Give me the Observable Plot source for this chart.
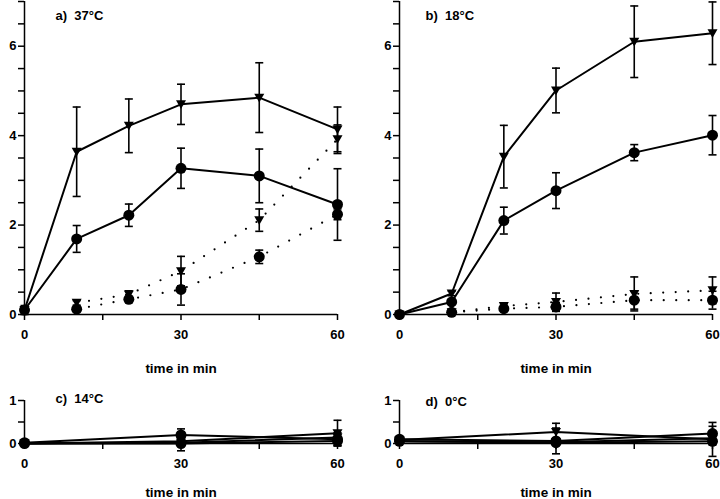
<!DOCTYPE html>
<html>
<head>
<meta charset="utf-8">
<script src="https://cdn.jsdelivr.net/npm/d3@7"></script>
<script src="https://cdn.jsdelivr.net/npm/@observablehq/plot@0.6"></script>
<style>
  html, body { margin: 0; padding: 0; background: #fff; }
  #chart { position: relative; width: 720px; height: 499px; overflow: hidden; }
  .panel { position: absolute; }
</style>
</head>
<body>
<div id="chart"></div>
<script>
// ---------- data ----------
const timesFull = [0, 10, 20, 30, 45, 60];
const timesLate = [10, 20, 30, 45, 60];
const timesShort = [0, 30, 60];

const xTicks = [0, 15, 30, 45, 60];
const xTickLabels = [0, 30, 60];
const yTicksTop = [0, 0.5, 1, 1.5, 2, 2.5, 3, 3.5, 4, 4.5, 5, 5.5, 6, 6.5, 7];
const yTickLabelsTop = [0, 2, 4, 6];
const yTicksBottom = [0, 0.5, 1];
const yTickLabelsBottom = [0, 1];

const panelTitles = ["a)\u00a0\u00a037°C", "b)\u00a0\u00a018°C", "c)\u00a0\u00a014°C", "d)\u00a0\u00a00°C"];
const xLabel = "time in min";

// a) 37 °C
const a37TriSolid = [0.1, 3.64, 4.22, 4.70, 4.85, 4.14];
const a37TriSolidErr = [0.1, 1.0, 0.6, 0.45, 0.78, 0.5];
const a37CircSolid = [0.1, 1.69, 2.22, 3.27, 3.10, 2.46];
const a37CircSolidErr = [0.05, 0.3, 0.25, 0.45, 0.6, 0.8];
const a37TriDot = [0.26, 0.45, 0.97, 2.11, 3.92];
const a37TriDotErr = [0.05, 0.08, 0.33, 0.25, 0.32];
const a37CircDot = [0.12, 0.34, 0.56, 1.29, 2.24];
const a37CircDotErr = [0.05, 0.06, 0.35, 0.15, 0.12];

// b) 18 °C
const b18TriSolid = [0, 0.47, 3.53, 5.01, 6.10, 6.29];
const b18TriSolidErr = [0, 0.05, 0.7, 0.5, 0.8, 0.7];
const b18CircSolid = [0, 0.28, 2.10, 2.77, 3.62, 4.01];
const b18CircSolidErr = [0, 0.05, 0.3, 0.4, 0.18, 0.44];
const b18TriDot = [0.05, 0.19, 0.28, 0.46, 0.54];
const b18TriDotErr = [0.02, 0.05, 0.2, 0.38, 0.3];
const b18CircDot = [0.05, 0.13, 0.17, 0.32, 0.32];
const b18CircDotErr = [0.02, 0.04, 0.1, 0.2, 0.2];

// c) 14 °C
const c14TriA = [0, 0.05, 0.24];
const c14TriAErr = [0, 0.22, 0.3];
const c14CircA = [0.02, 0.2, 0.1];
const c14CircAErr = [0, 0.14, 0.15];
const c14TriB = [0, 0.02, 0.14];
const c14TriBErr = [0, 0.05, 0.1];
const c14CircB = [0, 0, 0.06];
const c14CircBErr = [0, 0.05, 0.1];

// d) 0 °C
const d0TriA = [0.08, 0.27, 0.1];
const d0TriAErr = [0, 0.2, 0.1];
const d0CircA = [0.1, 0.06, 0.23];
const d0CircAErr = [0.05, 0.3, 0.26];
const d0TriB = [0.05, 0.03, 0.12];
const d0TriBErr = [0, 0.05, 0.05];
const d0CircB = [0.05, 0.02, 0.05];
const d0CircBErr = [0, 0.05, 0.35];

// ---------- symbols ----------
const triDown = {
  draw(ctx, size) {
    const r = Math.sqrt(size / Math.PI);
    ctx.moveTo(-r, -r * 0.8);
    ctx.lineTo(r, -r * 0.8);
    ctx.lineTo(0, r * 0.95);
    ctx.closePath();
  }
};
const cap = {
  draw(ctx, size) {
    const r = Math.sqrt(size / Math.PI);
    ctx.moveTo(-r, 0);
    ctx.lineTo(r, 0);
  }
};

function rows(times, vals, errs) {
  return times.map((t, i) => ({t, v: vals[i], e: errs[i], lo: vals[i] - errs[i], hi: vals[i] + errs[i]}));
}

function panel(cfg) {
  const lineMarks = [], errMarks = [], dotMarks = [];
  for (const s of cfg.series) {
    const data = rows(s.times, s.vals, s.errs);
    const eb = data.filter(d => d.e > 0);
    lineMarks.push(s.dotted
      ? Plot.line(data, {x: "t", y: "v", stroke: "black", strokeWidth: 2.2, strokeDasharray: "0 12.5", strokeLinecap: "round"})
      : Plot.line(data, {x: "t", y: "v", stroke: "black", strokeWidth: 2}));
    errMarks.push(
      Plot.ruleX(eb, {x: "t", y1: "lo", y2: "hi", stroke: "black", strokeWidth: 1.6}),
      Plot.dot(eb, {x: "t", y: "lo", symbol: cap, r: 4, stroke: "black", strokeWidth: 1.6, fill: "none"}),
      Plot.dot(eb, {x: "t", y: "hi", symbol: cap, r: 4, stroke: "black", strokeWidth: 1.6, fill: "none"})
    );
    if (s.shape === "tri") {
      dotMarks.push(Plot.dot(data, {x: "t", y: "v", symbol: triDown, r: 5, fill: "black", stroke: "none"}));
    } else {
      dotMarks.push(Plot.dot(data, {x: "t", y: "v", r: 5.5, fill: "black", stroke: "none"}));
    }
  }
  return Plot.plot({
    width: cfg.width,
    height: cfg.height,
    marginLeft: 24,
    marginRight: cfg.marginRight,
    marginTop: cfg.marginTop,
    marginBottom: cfg.marginBottom,
    x: {domain: [0, 60]},
    y: {domain: cfg.yDomain},
    style: {fontFamily: "'Liberation Sans', Arial, Helvetica, sans-serif", fontSize: "13px", fontWeight: "bold", color: "black", background: "white", overflow: "visible"},
    marks: [
      Plot.axisY({ticks: cfg.yTicks, tickFormat: d => cfg.yLabels.includes(d) ? String(d) : "", tickSize: 6, tickPadding: 2, label: null, strokeWidth: 1.5}),
      Plot.axisX({ticks: xTicks, tickFormat: d => xTickLabels.includes(d) ? String(d) : "", tickSize: 6, tickPadding: 9, label: null, strokeWidth: 1.5}),
      Plot.ruleX([0], {y1: cfg.yDomain[0], y2: cfg.yDomain[1], stroke: "black", strokeWidth: 1.5}),
      Plot.ruleY([0], {stroke: "black", strokeWidth: 1.5}),
      ...lineMarks,
      ...errMarks,
      ...dotMarks,
      Plot.text([cfg.title], {frameAnchor: "top-left", dx: cfg.titleDx, dy: cfg.titleDy, textAnchor: "start", lineAnchor: "middle", fontSize: 13, fontWeight: "bold"}),
      Plot.text([xLabel], {frameAnchor: "bottom", dy: cfg.xLabelDy, lineAnchor: "middle", fontSize: 13.5, fontWeight: "bold"})
    ]
  });
}

const chart = document.getElementById("chart");
function place(svg, left, top) {
  const div = document.createElement("div");
  div.className = "panel";
  div.style.left = left + "px";
  div.style.top = top + "px";
  div.appendChild(svg);
  chart.appendChild(div);
}

place(panel({
  width: 360, height: 380, marginRight: 23, marginTop: 1, marginBottom: 66,
  yDomain: [0, 7], yTicks: yTicksTop, yLabels: yTickLabelsTop,
  title: panelTitles[0], titleDx: 31, titleDy: 14, xLabelDy: 54,
  series: [
    {times: timesFull, vals: a37TriSolid, errs: a37TriSolidErr, shape: "tri"},
    {times: timesFull, vals: a37CircSolid, errs: a37CircSolidErr, shape: "circ"},
    {times: timesLate, vals: a37TriDot, errs: a37TriDotErr, shape: "tri", dotted: true},
    {times: timesLate, vals: a37CircDot, errs: a37CircDotErr, shape: "circ", dotted: true}
  ]
}), 0, 0);

place(panel({
  width: 345, height: 380, marginRight: 8, marginTop: 1, marginBottom: 66,
  yDomain: [0, 7], yTicks: yTicksTop, yLabels: yTickLabelsTop,
  title: panelTitles[1], titleDx: 26, titleDy: 14, xLabelDy: 54,
  series: [
    {times: timesFull, vals: b18TriSolid, errs: b18TriSolidErr, shape: "tri"},
    {times: timesFull, vals: b18CircSolid, errs: b18CircSolidErr, shape: "circ"},
    {times: timesLate, vals: b18TriDot, errs: b18TriDotErr, shape: "tri", dotted: true},
    {times: timesLate, vals: b18CircDot, errs: b18CircDotErr, shape: "circ", dotted: true}
  ]
}), 375, 0);

place(panel({
  width: 360, height: 119, marginRight: 23, marginTop: 20, marginBottom: 56,
  yDomain: [0, 1], yTicks: yTicksBottom, yLabels: yTickLabelsBottom,
  title: panelTitles[2], titleDx: 31, titleDy: -2, xLabelDy: 49,
  series: [
    {times: timesShort, vals: c14TriA, errs: c14TriAErr, shape: "tri"},
    {times: timesShort, vals: c14CircA, errs: c14CircAErr, shape: "circ"},
    {times: timesShort, vals: c14TriB, errs: c14TriBErr, shape: "tri"},
    {times: timesShort, vals: c14CircB, errs: c14CircBErr, shape: "circ"}
  ]
}), 0, 380);

place(panel({
  width: 345, height: 119, marginRight: 8, marginTop: 20, marginBottom: 56,
  yDomain: [0, 1], yTicks: yTicksBottom, yLabels: yTickLabelsBottom,
  title: panelTitles[3], titleDx: 26, titleDy: 1, xLabelDy: 49,
  series: [
    {times: timesShort, vals: d0TriA, errs: d0TriAErr, shape: "tri"},
    {times: timesShort, vals: d0CircA, errs: d0CircAErr, shape: "circ"},
    {times: timesShort, vals: d0TriB, errs: d0TriBErr, shape: "tri"},
    {times: timesShort, vals: d0CircB, errs: d0CircBErr, shape: "circ"}
  ]
}), 375, 380);
</script>
</body>
</html>
